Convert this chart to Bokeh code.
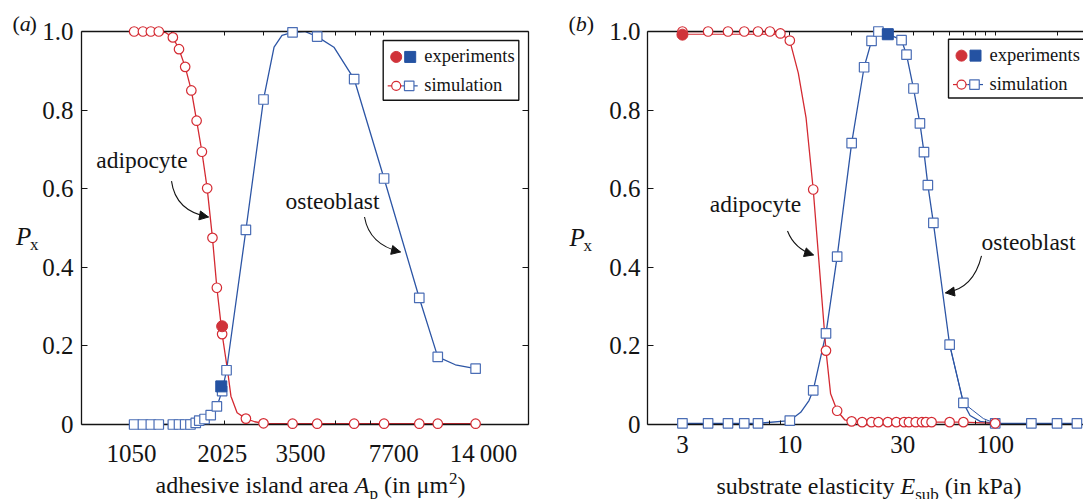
from math import log10
from bokeh.plotting import figure
from bokeh.models import (Range1d, FixedTicker, LinearAxis, LogAxis,
                          BoxAnnotation, Arrow, NormalHead, BasicTickFormatter)
from bokeh.core.properties import value
from bokeh.layouts import row
from bokeh.embed import file_html
from bokeh.resources import INLINE

RED = "#d42a32"
RED_FILL = "#d0333a"
BLUE = "#2c55a5"
BLUE_EDGE = "#4a6db5"
BLUE_FILL = "#2452a2"
INK = "#141414"
FONT = "Liberation Serif"
TICK_FS = "25px"

# ---------------- panel (a): adhesive island area ----------------
# x is the position along the panel-(a) axis (label "1050" at 0, "14 000" at 4)
a_tick_pos = [0.0, 1.03, 1.92, 2.98, 4.0]
a_tick_labels = ["1050", "2025", "3500", "7700", "14\u2009000"]
a_minor_pos = [0.46, 1.06, 1.50, 2.32, 2.55, 2.72, 2.86]

a_adipo_x = [0.03, 0.13, 0.22, 0.31, 0.47, 0.54, 0.61, 0.68, 0.74, 0.80, 0.86,
             0.92, 0.97, 1.03, 1.30, 1.50, 1.83, 2.11, 2.53, 2.87, 3.27, 3.48, 3.91]
a_adipo_y = [1.0, 1.0, 1.0, 1.0, 0.985, 0.955, 0.91, 0.85, 0.773, 0.694, 0.601,
             0.475, 0.348, 0.23, 0.015, 0.003, 0.002, 0.002, 0.002, 0.002, 0.002, 0.002, 0.002]
a_osteo_x = [0.03, 0.13, 0.22, 0.31, 0.47, 0.54, 0.61, 0.67, 0.73, 0.77, 0.83, 0.90,
             0.97, 1.03, 1.08, 1.30, 1.50, 1.83, 2.11, 2.53, 2.87, 3.27, 3.48, 3.91]
a_osteo_y = [0, 0, 0, 0, 0, 0, 0, 0, 0.004, 0.01, 0.014, 0.024, 0.046, 0.085, 0.138,
             0.495, 0.827, 0.998, 0.987, 0.879, 0.626, 0.322, 0.172, 0.142]
# extra points (between markers)
a_adipo_curve_x = [0.39, 1.09, 1.13, 1.20, 1.40]
a_adipo_curve_y = [0.997, 0.14, 0.072, 0.03, 0.007]
a_osteo_curve_x = [1.62, 1.71, 1.97, 2.30, 3.68]
a_osteo_curve_y = [0.96, 0.99, 1.0, 0.96, 0.152]
a_exp_adipo_x, a_exp_adipo_y = [1.03], [0.25]
a_exp_osteo_x, a_exp_osteo_y = [1.02], [0.097]

# ---------------- panel (b): substrate elasticity (kPa) ----------------
b_tick_pos = [3, 10, 35.5, 100]
b_tick_labels = ["3", "10", "30", "100"]
b_minor_pos = [3, 4, 5, 6, 7, 8, 9, 20, 30, 40, 50, 60, 70, 80, 90, 200]
b_top_pos = [3, 4, 5, 6, 7, 8, 9, 10, 20, 30, 40, 50, 60, 70, 80, 90, 100, 200]

b_adipo_x = [3, 4, 5, 6, 7, 8, 9, 10, 13, 15, 17, 20, 22.5, 25, 27, 30, 33, 36, 38,
             41, 44, 46, 49, 60, 70, 100]
b_adipo_y = [1.0, 1.0, 1.0, 1.0, 1.0, 1.0, 0.995, 0.977, 0.598, 0.188, 0.035, 0.008,
             0.006, 0.006, 0.006, 0.006, 0.006, 0.006, 0.006, 0.006, 0.006, 0.006,
             0.006, 0.006, 0.006, 0.003]
b_osteo_x = [3, 4, 5, 6, 7, 10, 13, 15, 17, 20, 23, 25, 27, 30, 35, 37, 40, 43, 45,
             47, 50, 60, 70, 100, 150, 200, 250]
b_osteo_y = [0.003, 0.003, 0.003, 0.003, 0.003, 0.01, 0.087, 0.232, 0.427, 0.716,
             0.909, 0.976, 1.0, 0.994, 0.978, 0.941, 0.855, 0.766, 0.693, 0.609,
             0.513, 0.203, 0.055, 0.003, 0.003, 0.003, 0.003]
b_adipo_curve_x = [11.0, 12.0, 15.8, 18.5]
b_adipo_curve_y = [0.894, 0.78, 0.078, 0.012]
b_osteo_curve_x = [11.3, 12.4, 75.4, 84.5]
b_osteo_curve_y = [0.031, 0.061, 0.023, 0.008]
b_adipo_alt_x, b_adipo_alt_y = [3, 9], [0.993, 0.993]
b_osteo_alt_x = [60, 70, 77.8, 87.6, 100]
b_osteo_alt_y = [0.203, 0.055, 0.036, 0.015, 0.003]
b_exp_adipo_x, b_exp_adipo_y = [3], [0.992]
b_exp_osteo_x, b_exp_osteo_y = [30], [0.993]

Y_TICKS = [0, 0.2, 0.4, 0.6, 0.8, 1.0]
Y_LABELS = ["0", "0.2", "0.4", "0.6", "0.8", "1.0"]

# ---------------- geometry (pixels of the picture) ----------------
A_XR = (-0.568, 4.511)
B_XR = (2.028, 269.1)


def xa(px):
    return A_XR[0] + (px - 81) / 447 * (A_XR[1] - A_XR[0])


def ya(py):
    return (425 - py) / 394


def xb(px):
    lo, hi = log10(B_XR[0]), log10(B_XR[1])
    return 10 ** (lo + (px - 647) / 436 * (hi - lo))


def yb(py):
    return (424 - py) / 394


# Times / Liberation Serif advance widths (per 1000 em)
W = {'a': 444, 'b': 500, 'c': 444, 'd': 500, 'e': 444, 'h': 500, 'i': 278, 'k': 500,
     'l': 278, 'm': 778, 'n': 500, 'p': 500, 'r': 333, 's': 389, 't': 278, 'u': 500,
     'v': 500, 'y': 500, ' ': 250, '(': 333, ')': 333, '\u03bc': 576, 'P': 556,
     'A': 611, 'E': 611, '2': 500, 'x': 500}
MID = 0.3375   # em-box middle above the baseline (Liberation Serif)


def tw(s, size):
    return sum(W.get(c, 500) for c in s) / 1000 * size


def merged(x1, y1, x2, y2):
    pts = sorted(zip(list(x1) + list(x2), list(y1) + list(y2)))
    return [q[0] for q in pts], [q[1] for q in pts]


def make_fig(width, x_range, x_axis_type, left, right, top, bottom):
    p = figure(width=width, height=499, x_range=x_range, y_range=Range1d(0, 1),
               x_axis_type=x_axis_type, output_backend="svg", toolbar_location=None,
               min_border_left=left, min_border_right=right, min_border_top=top,
               min_border_bottom=bottom)
    p.outline_line_color = None
    p.xgrid.visible = False
    p.ygrid.visible = False
    p.background_fill_color = "white"
    p.border_fill_color = "white"
    return p


def style_axis(ax, standoff=8, fs=TICK_FS):
    ax.axis_line_color = INK
    ax.axis_line_width = 1.3
    ax.major_tick_line_color = INK
    ax.minor_tick_line_color = INK
    ax.major_tick_line_width = 1.1
    ax.minor_tick_line_width = 1.0
    ax.major_tick_in = 6
    ax.major_tick_out = 0
    ax.minor_tick_in = 4
    ax.minor_tick_out = 0
    ax.major_label_text_font = FONT
    ax.major_label_text_color = INK
    ax.major_label_text_font_size = fs
    ax.major_label_standoff = standoff


def txt(p, fx, fy, px, base, text, size, style="normal", align="left"):
    """text whose baseline sits at picture row `base`"""
    p.text(x=[fx(px)], y=[fy(base - MID * size)], text=[text],
           text_font=value(FONT), text_font_size=value(f"{size}px"),
           text_font_style=style, text_color=INK, text_align=align,
           text_baseline="middle", level="overlay")


def curved_arrow(p, fx, fy, start, ctrl, end):
    p.quadratic(x0=[fx(start[0])], y0=[fy(start[1])], x1=[fx(end[0])], y1=[fy(end[1])],
                cx=[fx(ctrl[0])], cy=[fy(ctrl[1])], line_color=INK, line_width=1.1)
    p.add_layout(Arrow(end=NormalHead(size=9, fill_color=INK, line_color=INK, line_width=1),
                       x_start=fx(ctrl[0]), y_start=fy(ctrl[1]),
                       x_end=fx(end[0]), y_end=fy(end[1]), line_alpha=0))


def legend(p, fx, fy, left, top, bottom, right):
    p.add_layout(BoxAnnotation(left=fx(left), right=fx(right), top=fy(top), bottom=fy(bottom),
                               fill_color="white", fill_alpha=1, line_color=INK,
                               line_alpha=1, line_width=1.4))
    r1 = top + 16.5
    r2 = top + 45.5
    p.scatter([fx(left + 13)], [fy(r1)], marker="circle", size=11, fill_color=RED_FILL,
              line_color=RED_FILL, level="overlay")
    p.scatter([fx(left + 27)], [fy(r1)], marker="square", size=11, fill_color=BLUE_FILL,
              line_color=BLUE_FILL, level="overlay")
    txt(p, fx, fy, left + 41, r1 + 5.5, "experiments", 18.5)
    p.line([fx(left + 4.5), fx(left + 19)], [fy(r2), fy(r2)], line_color=RED,
           line_width=1.2, level="overlay")
    p.line([fx(left + 19), fx(left + 34.5)], [fy(r2), fy(r2)], line_color=BLUE,
           line_width=1.2, level="overlay")
    p.scatter([fx(left + 13)], [fy(r2)], marker="circle", size=9, fill_color="white",
              line_color=RED, line_width=1.2, level="overlay")
    p.scatter([fx(left + 26)], [fy(r2)], marker="square", size=9.5, fill_color="white",
              line_color=BLUE_EDGE, line_width=1.2, level="overlay")
    txt(p, fx, fy, left + 41, r2 + 5.5, "simulation", 18.5)


def draw_series(p, ox, oy, ocx, ocy, ax_, ay_, acx, acy, exo, eyo, exa, eya, extra=()):
    bx, by = merged(ox, oy, ocx, ocy)
    rx, ry = merged(ax_, ay_, acx, acy)
    p.line(bx, by, line_color=BLUE, line_width=1.3)
    for (ex, ey, col) in extra:
        p.line(ex, ey, line_color=col, line_width=1.0)
    p.line(rx, ry, line_color=RED, line_width=1.3)
    p.scatter(ox, oy, marker="square", size=9.5, fill_color="white", line_color=BLUE_EDGE,
              line_width=1.2, level="overlay")
    p.scatter(ax_, ay_, marker="circle", size=9.5, fill_color="white", line_color=RED,
              line_width=1.2, level="overlay")
    p.scatter(exa, eya, marker="circle", size=11, fill_color=RED_FILL, line_color=RED_FILL,
              level="overlay")
    p.scatter(exo, eyo, marker="square", size=11, fill_color=BLUE_FILL, line_color=BLUE_FILL,
              level="overlay")


def composite(p, fx, fy, x0, base, pieces):
    off = 0.0
    for text, size, style, dy in pieces:
        body = text.lstrip(" ")
        lead = tw(text[:len(text) - len(body)], size)
        txt(p, fx, fy, x0 + off + lead, base + dy, body.rstrip(" "), size, style=style)
        off += tw(text, size)


# ======================= panel (a) =======================
pa = make_fig(567, Range1d(*A_XR), "linear", 81, 39, 31, 74)
xax = pa.xaxis[0]
xax.ticker = FixedTicker(ticks=a_tick_pos, minor_ticks=a_minor_pos)
xax.major_label_overrides = dict(zip(a_tick_pos, a_tick_labels))
style_axis(xax, standoff=15)
xax.major_tick_in = 0
yax = pa.yaxis[0]
yax.ticker = FixedTicker(ticks=Y_TICKS)
yax.major_label_overrides = dict(zip(Y_TICKS, Y_LABELS))
style_axis(yax, standoff=8)
top_a = LinearAxis(ticker=FixedTicker(ticks=[], minor_ticks=a_minor_pos))
style_axis(top_a)
pa.add_layout(top_a, "above")
right_a = LinearAxis(ticker=FixedTicker(ticks=[], minor_ticks=Y_TICKS))
style_axis(right_a)
right_a.minor_tick_in = 6
pa.add_layout(right_a, "right")

draw_series(pa, a_osteo_x, a_osteo_y, a_osteo_curve_x, a_osteo_curve_y,
            a_adipo_x, a_adipo_y, a_adipo_curve_x, a_adipo_curve_y,
            a_exp_osteo_x, a_exp_osteo_y, a_exp_adipo_x, a_exp_adipo_y)
legend(pa, xa, ya, 382.7, 40, 100, 518.3)

txt(pa, xa, ya, 141.4, 168, "adipocyte", 23.5, align="center")
curved_arrow(pa, xa, ya, (171, 181), (175, 211), (208, 217))
txt(pa, xa, ya, 332, 209, "osteoblast", 23.5, align="center")
curved_arrow(pa, xa, ya, (364, 217), (369, 245), (400, 252))

composite(pa, xa, ya, 12, 30, [("(", 22, "normal", 0), ("a", 22, "italic", 0),
                                (")", 22, "normal", 0)])
composite(pa, xa, ya, 15.5, 245, [("P", 25, "italic", 0), ("x", 17, "normal", 5)])
composite(pa, xa, ya, 155, 494, [
    ("adhesive island area ", 24, "normal", 0),
    ("A", 24, "italic", 0),
    ("p", 17, "normal", 6),
    (" (in \u03bcm", 24, "normal", 0),
    ("2", 17, "normal", -9),
    (")", 24, "normal", 0),
])

# ======================= panel (b) =======================
pb = make_fig(516, Range1d(*B_XR), "log", 80, 0, 30, 75)
xbx = pb.xaxis[0]
xbx.ticker = FixedTicker(ticks=b_tick_pos, minor_ticks=b_minor_pos)
xbx.formatter = BasicTickFormatter()
xbx.major_label_overrides = dict(zip(b_tick_pos, b_tick_labels))
style_axis(xbx, standoff=11)
xbx.major_tick_in = 0
ybx = pb.yaxis[0]
ybx.ticker = FixedTicker(ticks=Y_TICKS)
ybx.major_label_overrides = dict(zip(Y_TICKS, Y_LABELS))
style_axis(ybx, standoff=7)
top_b = LogAxis(ticker=FixedTicker(ticks=[], minor_ticks=b_top_pos),
                formatter=BasicTickFormatter())
style_axis(top_b)
pb.add_layout(top_b, "above")

draw_series(pb, b_osteo_x, b_osteo_y, b_osteo_curve_x, b_osteo_curve_y,
            b_adipo_x, b_adipo_y, b_adipo_curve_x, b_adipo_curve_y,
            b_exp_osteo_x, b_exp_osteo_y, b_exp_adipo_x, b_exp_adipo_y,
            extra=[(b_osteo_alt_x, b_osteo_alt_y, BLUE), (b_adipo_alt_x, b_adipo_alt_y, RED)])
legend(pb, xb, yb, 948, 37.7, 96.7, 1120)

txt(pb, xb, yb, 755, 211, "adipocyte", 23.5, align="center")
curved_arrow(pb, xb, yb, (787, 230), (794, 248), (813, 254))
txt(pb, xb, yb, 1028, 248.5, "osteoblast", 23.5, align="center")
curved_arrow(pb, xb, yb, (981, 255), (973, 288), (945, 292))

composite(pb, xb, yb, 568, 29, [("(", 22, "normal", 0), ("b", 22, "italic", 0),
                                 (")", 22, "normal", 0)])
composite(pb, xb, yb, 569, 245, [("P", 25, "italic", 0), ("x", 17, "normal", 5)])
composite(pb, xb, yb, 716, 494, [
    ("substrate elasticity ", 24, "normal", 0),
    ("E", 24, "italic", 0),
    ("sub", 17, "normal", 6),
    (" (in kPa)", 24, "normal", 0),
])

layout = row(pa, pb)
open("out.html", "w").write(file_html(layout, INLINE))
